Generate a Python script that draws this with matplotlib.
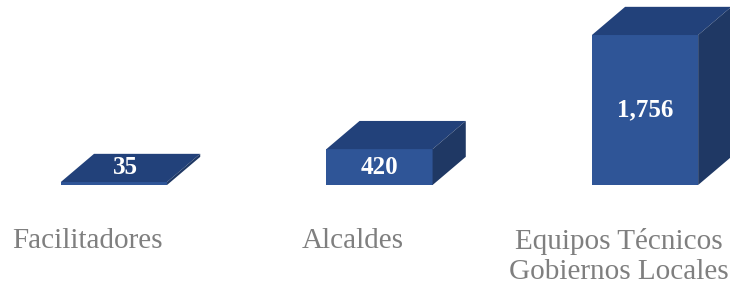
import matplotlib
matplotlib.use("Agg")
import matplotlib.pyplot as plt
from matplotlib.patches import Polygon

categorias=["Facilitadores","Alcaldes","Equipos Técnicos\nGobiernos Locales"] #подписи категорий
valores=[35,420,1756] #значения столбцов
etiquetas=["35","420","1,756"] #подписи значений

c_front="#2F5597" #передняя грань
c_top="#22417A" #верхняя грань
c_side="#1F3864" #боковая грань

w=0.40 #ширина столбца (в единицах категорий)
dx=0.125 #глубина по x
dy=330 #глубина по y (в единицах значений)

fig=plt.figure(figsize=(7.3,2.88),dpi=100)
ax=fig.add_axes([0,0.3576,1,0.6424]) #оси без рамок
ax.set_xlim(-0.429,2.32)
ax.set_ylim(0,2166)
ax.axis("off")

for i,(v,lab) in enumerate(zip(valores,etiquetas)):
    x0=i-w/2
    x1=i+w/2
    ax.add_patch(Polygon([(x0,0),(x1,0),(x1,v),(x0,v)],closed=True,facecolor=c_front,edgecolor="none",clip_on=False)) #перед
    ax.add_patch(Polygon([(x0,v),(x1,v),(x1+dx,v+dy),(x0+dx,v+dy)],closed=True,facecolor=c_top,edgecolor="none",clip_on=False)) #верх
    ax.add_patch(Polygon([(x1,0),(x1+dx,dy),(x1+dx,v+dy),(x1,v)],closed=True,facecolor=c_side,edgecolor="none",clip_on=False)) #бок
    if v<200: #передняя грань слишком тонкая -> подпись на верхней грани
        tx,ty=i+dx/2-0.02,v+dy/2
    else:
        tx,ty=i,v/2
    ax.text(tx,ty,lab,ha="center",va="center",color="white",fontsize=18,fontweight="bold",family="Liberation Serif")

for i,cat in enumerate(categorias):
    ax.annotate(cat,xy=(i-0.1,0),xytext=(0,-31),textcoords="offset points",ha="center",va="top",
                fontsize=21,color="#7F7F7F",family="Liberation Serif",linespacing=1.22,annotation_clip=False)

plt.savefig("out.png",dpi=100)
plt.close()
